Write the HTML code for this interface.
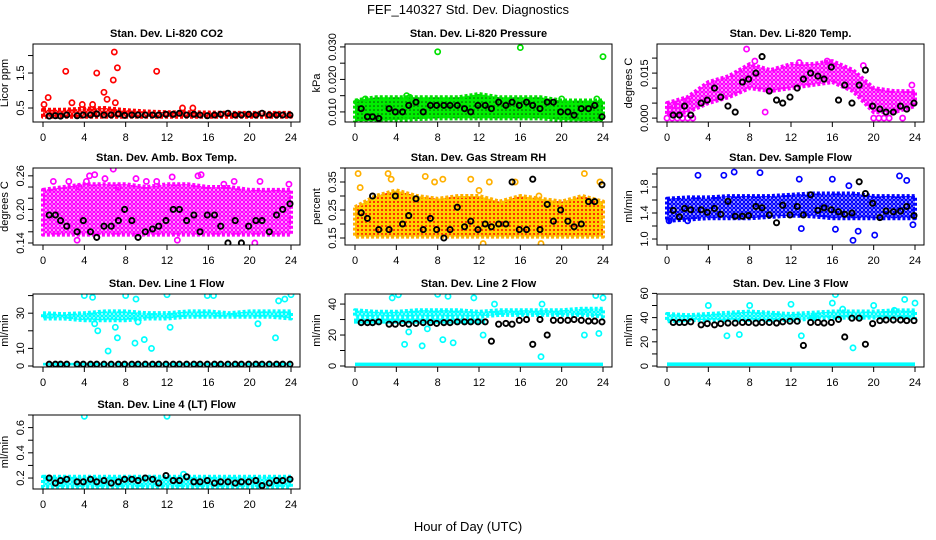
<!DOCTYPE html>
<html><head><meta charset="utf-8"><style>
html,body{margin:0;padding:0;background:#fff;}
svg{display:block;font-family:"Liberation Sans",sans-serif;}
</style></head><body>
<svg id="chart" width="936" height="540" viewBox="0 0 936 540">
<defs>
<pattern id="p-red" width="4" height="4" patternUnits="userSpaceOnUse"><rect width="4" height="4" fill="#fff"/><circle cx="2" cy="2" r="1.6" fill="none" stroke="#f00" stroke-width="1.4"/></pattern>
<pattern id="p-green" width="4" height="4" patternUnits="userSpaceOnUse"><rect width="4" height="4" fill="#00ee00"/><circle cx="2" cy="2" r="0.8" fill="#0a4a0a"/></pattern>
<pattern id="p-mag" width="4" height="4" patternUnits="userSpaceOnUse"><rect width="4" height="4" fill="#fff"/><circle cx="2" cy="2" r="1.6" fill="none" stroke="#f0f" stroke-width="1.4"/></pattern>
<pattern id="p-rh" width="4" height="4" patternUnits="userSpaceOnUse"><rect width="4" height="4" fill="#ffd000"/><circle cx="2" cy="2" r="1" fill="#f00"/></pattern>
<pattern id="p-blue" width="4" height="4" patternUnits="userSpaceOnUse"><rect width="4" height="4" fill="#fff"/><circle cx="2" cy="2" r="1.6" fill="none" stroke="#00f" stroke-width="1.4"/></pattern>
<pattern id="p-cyan" width="4" height="4" patternUnits="userSpaceOnUse"><rect width="4" height="4" fill="#fff"/><circle cx="2" cy="2" r="1.6" fill="none" stroke="#0ff" stroke-width="1.5"/></pattern>
</defs>
<text x="468" y="14" text-anchor="middle" font-size="13">FEF_140327  Std. Dev. Diagnostics</text>
<text x="468" y="531" text-anchor="middle" font-size="13">Hour of Day (UTC)</text>
</svg>
<script>
const bandHours=[0,2,4,6,8,10,12,14,16,18,20,22,24];
const blkHours=[0.6,1.2,1.7,2.3,3.3,3.9,4.6,5.2,5.9,6.6,7.3,7.9,8.6,9.2,9.9,10.6,11.2,11.9,12.6,13.2,13.9,14.6,15.2,15.9,16.6,17.2,17.9,18.6,19.2,19.9,20.6,21.2,21.9,22.6,23.2,23.9];
const xTicks=[0,4,8,12,16,20,24];

const co2Lo=[0.25,0.25,0.25,0.25,0.25,0.25,0.25,0.25,0.25,0.25,0.25,0.25,0.25];
const co2Hi=[0.45,0.45,0.48,0.5,0.44,0.4,0.38,0.38,0.37,0.36,0.36,0.36,0.36];
const co2OutH=[0.1,0.5,2.2,2.8,3.8,4.8,5.2,5.9,6.2,6.8,6.9,7.0,7.2,11,13.5,14.5];
const co2OutV=[0.6,0.8,1.55,0.65,0.6,0.6,1.5,0.95,0.75,1.3,2.1,0.65,1.65,1.55,0.5,0.5];
const co2Blk=[0.27,0.28,0.27,0.3,0.28,0.3,0.3,0.33,0.3,0.3,0.33,0.29,0.3,0.3,0.3,0.3,0.3,0.32,0.32,0.35,0.3,0.32,0.3,0.28,0.3,0.32,0.35,0.3,0.3,0.32,0.3,0.35,0.3,0.3,0.3,0.3];

const presLo=[0.0072,0.0072,0.0075,0.0078,0.008,0.008,0.008,0.008,0.008,0.008,0.0075,0.0072,0.0072];
const presHi=[0.0135,0.0145,0.0145,0.0145,0.0145,0.0145,0.0155,0.0145,0.0145,0.0145,0.0135,0.0135,0.0135];
const presOutH=[0.2,1,3,5,5.3,8,16,18.6,20,23.4,24];
const presOutV=[0.013,0.014,0.0115,0.015,0.0145,0.0285,0.0298,0.0118,0.014,0.014,0.027];
const presBlk=[0.011,0.0085,0.0085,0.008,0.011,0.010,0.010,0.012,0.013,0.010,0.012,0.012,0.012,0.012,0.012,0.011,0.010,0.012,0.012,0.011,0.013,0.012,0.013,0.012,0.013,0.012,0.011,0.013,0.013,0.010,0.010,0.009,0.011,0.011,0.012,0.0085];

const tempLo=[0.001,0.002,0.005,0.007,0.010,0.009,0.010,0.011,0.012,0.009,0.002,0.002,0.004];
const tempHi=[0.005,0.007,0.012,0.014,0.018,0.016,0.018,0.018,0.019,0.016,0.010,0.009,0.009];
const tempOutH=[0.3,1,2,7.7,8.5,9.5,12.8,15.5,19,23.7,0,0.5,1,1.5,2,2.5,20,20.5,21,21.5,22.8];
const tempOutV=[0.003,0.004,0.006,0.023,0.019,0.002,0.0185,0.019,0.0175,0.011,0,0,0,0,0,0,0,0,0,0,0];
const tempBlk=[0.001,0.001,0.004,0.001,0.005,0.006,0.010,0.007,0.004,0.002,0.012,0.013,0.015,0.0205,0.009,0.006,0.005,0.007,0.010,0.013,0.015,0.014,0.013,0.017,0.006,0.011,0.005,0.011,0.016,0.004,0.003,0.002,0.002,0.004,0.003,0.005];

const ambLo=[0.155,0.155,0.155,0.155,0.155,0.155,0.155,0.155,0.155,0.155,0.155,0.155,0.155];
const ambHi=[0.235,0.24,0.245,0.245,0.245,0.24,0.245,0.245,0.24,0.24,0.235,0.235,0.235];
const ambOutH=[2.5,3.5,4.2,4.5,5,6,6.8,7.3,9,11,12.5,15,15.3,17.5,18.5,21,23.8,3.3,13,20.5,1,10];
const ambOutV=[0.25,0.24,0.25,0.26,0.262,0.255,0.272,0.24,0.255,0.25,0.258,0.26,0.262,0.245,0.25,0.25,0.245,0.145,0.145,0.14,0.25,0.25];
const ambBlk=[0.19,0.19,0.18,0.17,0.16,0.18,0.16,0.15,0.17,0.17,0.18,0.2,0.18,0.15,0.16,0.165,0.17,0.18,0.2,0.2,0.18,0.19,0.16,0.19,0.19,0.17,0.14,0.18,0.14,0.17,0.18,0.18,0.16,0.19,0.2,0.21];

const rhLo=[0.155,0.155,0.155,0.155,0.155,0.155,0.155,0.155,0.155,0.155,0.155,0.155,0.155];
const rhHi=[0.26,0.3,0.32,0.3,0.29,0.3,0.3,0.28,0.3,0.29,0.28,0.3,0.28];
const rhOutH=[0.3,0.5,3.2,3.5,6.8,7.7,8.5,11.2,12,13,15.5,17.8,22.2,23.7,18,12.4];
const rhOutV=[0.38,0.33,0.38,0.36,0.37,0.35,0.36,0.36,0.32,0.35,0.35,0.3,0.38,0.35,0.13,0.13];
const rhBlk=[0.24,0.22,0.3,0.18,0.18,0.3,0.2,0.23,0.29,0.18,0.22,0.18,0.15,0.18,0.26,0.19,0.21,0.18,0.2,0.19,0.2,0.2,0.35,0.18,0.18,0.36,0.18,0.27,0.21,0.25,0.21,0.19,0.2,0.28,0.28,0.34];

const flowLo=[1.28,1.3,1.32,1.32,1.32,1.34,1.36,1.35,1.32,1.32,1.32,1.32,1.32];
const flowHi=[1.62,1.64,1.64,1.66,1.66,1.66,1.68,1.7,1.7,1.7,1.66,1.66,1.66];
const flowOutH=[3,5.5,6.5,9,12.8,16,17.6,18,18.5,20.1,22.5,23.2,13,16.3,23.8,2,0.2];
const flowOutV=[1.98,1.98,2.03,2.02,1.92,1.92,1.82,0.98,1.12,1.06,1.97,1.9,1.16,1.15,1.22,1.28,1.28];
const flowBlk=[1.44,1.34,1.47,1.45,1.45,1.41,1.47,1.38,1.58,1.35,1.35,1.36,1.5,1.48,1.37,1.25,1.52,1.37,1.5,1.37,1.68,1.44,1.48,1.45,1.42,1.38,1.4,1.88,1.7,1.55,1.33,1.43,1.42,1.43,1.5,1.36];

const l1Lo=[27,27,26,26,26,27,27,28,28,28,28,28,27];
const l1Hi=[30,29.5,30,31,31,30,30,31,31,30,31,31,31];
const l1OutH=[4,4.8,5,5.3,6.3,7,7.2,8,9,9.2,9.8,10.5,12,12.3,15.9,16.5,20.8,22.5,22.8,23.4,24,8.9];
const l1OutV=[40,39,24,20,8.5,22,16,40,38,25,15,10,40.5,22,40,40,24,16,37,38,40.5,13];
const l1Blk=[1,1,1,1,1,1,1,1,1,1,1,1,1,1,1,1,1,1,1,1,1,1,1,1,1,1,1,1,1,1,1,1,1,1,1,1];

const l2Lo=[32,32,32,32,32,32,32,33,33,33,33,33,32];
const l2Hi=[36,35,35,36,36,36,35,36,36,36,36,37,37];
const l2OutH=[3.6,4.2,4.8,5.2,6.5,7,8,8.5,9,9.5,11.5,12.4,13.5,18,18.1,22.2,23.3,23.6,24];
const l2OutV=[44,46,14,22,13,24,46.3,17,45,15,44,20,40,6,40,20,45.5,21,44];
const l2Blk=[28,28,28,28.5,27,27,27.5,27,27.5,28,28,27.5,28,28,28.5,28.5,28.5,28.5,28.5,16,27,27.5,27,29.5,30,14,30,20,29.5,29.5,29.5,30,29.5,29,29,28.5];

const l3Lo=[37,38,38,38,38,38,38,39,40,40,40,40,40];
const l3Hi=[43,42,43,44,45,44,43,44,45,45,45,46,46];
const l3OutH=[4,5.8,7,8,12,13,16,16.3,17,18,20,22,23,24,14.2];
const l3OutV=[50,25,26,50,51,25,52,59,47,15,50,46,55,52,40];
const l3Blk=[36,36,36,36.5,34,35,34,35,35.5,35.5,36,36,35.5,36,36,35.5,36.5,37,37,17,36,36,35.5,36,38.5,24,39.5,39.5,18,35,37.5,38,38,38,37.5,37.5];

const l4Lo=[0.13,0.13,0.13,0.13,0.13,0.13,0.13,0.13,0.13,0.13,0.13,0.13,0.13];
const l4Hi=[0.21,0.21,0.21,0.21,0.21,0.21,0.21,0.21,0.21,0.21,0.21,0.21,0.21];
const l4OutH=[4,12,13.6];
const l4OutV=[0.69,0.69,0.23];
const l4Blk=[0.2,0.16,0.18,0.19,0.17,0.17,0.19,0.17,0.18,0.16,0.17,0.19,0.19,0.18,0.2,0.19,0.16,0.22,0.18,0.18,0.21,0.17,0.17,0.18,0.16,0.17,0.17,0.16,0.17,0.17,0.18,0.14,0.16,0.18,0.18,0.19];

const panels=[
 {key:'co2',title:'Stan. Dev. Li-820 CO2',ylab:'Licor ppm',c:0,r:0,dom:[0.1,2.33],ticks:[0.5,1,1.5,2],labels:['0.5','','1.5',''],col:'#f00',pat:'p-red',lo:co2Lo,hi:co2Hi,oh:co2OutH,ov:co2OutV,blk:co2Blk},
 {key:'pressure',title:'Stan. Dev. Li-820 Pressure',ylab:'kPa',c:1,r:0,dom:[0.0069,0.0309],ticks:[0.01,0.015,0.02,0.025,0.03],labels:['0.010','','0.020','','0.030'],col:'#00e000',pat:'p-green',lo:presLo,hi:presHi,oh:presOutH,ov:presOutV,blk:presBlk},
 {key:'temp',title:'Stan. Dev. Li-820 Temp.',ylab:'degrees C',c:2,r:0,dom:[-0.0013,0.0247],ticks:[0,0.005,0.01,0.015,0.02],labels:['0.000','','','0.015',''],col:'#f0f',pat:'p-mag',lo:tempLo,hi:tempHi,oh:tempOutH,ov:tempOutV,blk:tempBlk},
 {key:'amb-box',title:'Stan. Dev. Amb. Box Temp.',ylab:'degrees C',c:0,r:1,dom:[0.1364,0.274],ticks:[0.14,0.16,0.18,0.2,0.22,0.24,0.26],labels:['0.14','','','0.20','','','0.26'],col:'#f0f',pat:'p-mag',lo:ambLo,hi:ambHi,oh:ambOutH,ov:ambOutV,blk:ambBlk},
 {key:'rh',title:'Stan. Dev. Gas Stream RH',ylab:'percent',c:1,r:1,dom:[0.125,0.40],ticks:[0.15,0.2,0.25,0.3,0.35,0.4],labels:['0.15','','0.25','','0.35',''],col:'#ffb000',pat:'p-rh',lo:rhLo,hi:rhHi,oh:rhOutH,ov:rhOutV,blk:rhBlk},
 {key:'sample-flow',title:'Stan. Dev. Sample Flow',ylab:'ml/min',c:2,r:1,dom:[0.908,2.092],ticks:[1,1.2,1.4,1.6,1.8,2],labels:['1.0','','1.4','','1.8',''],col:'#00f',pat:'p-blue',lo:flowLo,hi:flowHi,oh:flowOutH,ov:flowOutV,blk:flowBlk},
 {key:'line1',title:'Stan. Dev. Line 1 Flow',ylab:'ml/min',c:0,r:2,dom:[-0.57,40.9],ticks:[0,10,20,30,40],labels:['0','10','','30',''],col:'#0ff',pat:'p-cyan',lo:l1Lo,hi:l1Hi,oh:l1OutH,ov:l1OutV,blk:l1Blk,floor:[0.3,1.8]},
 {key:'line2',title:'Stan. Dev. Line 2 Flow',ylab:'ml/min',c:1,r:2,dom:[-0.65,46.5],ticks:[0,10,20,30,40],labels:['0','','20','','40'],col:'#0ff',pat:'p-cyan',lo:l2Lo,hi:l2Hi,oh:l2OutH,ov:l2OutV,blk:l2Blk,floor:[0,2.2],mid:[28,30,12.5]},
 {key:'line3',title:'Stan. Dev. Line 3 Flow',ylab:'ml/min',c:2,r:2,dom:[-0.8,59.5],ticks:[0,10,20,30,40,50,60],labels:['0','','20','','40','','60'],col:'#0ff',pat:'p-cyan',lo:l3Lo,hi:l3Hi,oh:l3OutH,ov:l3OutV,blk:l3Blk,floor:[0,3]},
 {key:'line4',title:'Stan. Dev. Line 4 (LT) Flow',ylab:'ml/min',c:0,r:3,dom:[0.113,0.70],ticks:[0.2,0.3,0.4,0.5,0.6,0.7],labels:['0.2','','0.4','','0.6',''],col:'#0ff',pat:'p-cyan',lo:l4Lo,hi:l4Hi,oh:l4OutH,ov:l4OutV,blk:l4Blk}
];
const rowTop=[44,168,294,415], rowBot=[122,245,367,489];
const NS='http://www.w3.org/2000/svg';
const svg=document.getElementById('chart');
function mk(tag,attrs,parent){const e=document.createElementNS(NS,tag);for(const k in attrs)e.setAttribute(k,attrs[k]);(parent||svg).appendChild(e);return e;}

panels.forEach(p=>{
 const x0=43+312*p.c, left=x0-10, right=x0+257, top=rowTop[p.r], bot=rowBot[p.r];
 const xs=h=>x0+h*(248/24);
 const ys=v=>bot-(v-p.dom[0])/(p.dom[1]-p.dom[0])*(bot-top);
 const g=mk('g',{});
 
 
 const clip=mk('clipPath',{id:'clip-'+p.key},g);
 mk('rect',{x:left,y:top,width:right-left,height:bot-top},clip);
 const data=mk('g',{'clip-path':'url(#clip-'+p.key+')'},g);
 let pts=bandHours.map((h,i)=>xs(h)+','+ys(p.hi[i]));
 pts=pts.concat(bandHours.slice().reverse().map((h,j)=>{const i=bandHours.length-1-j;return xs(h)+','+ys(p.lo[i]);}));
 const band=mk('polygon',{points:pts.join(' '),fill:'url(#'+p.pat+')',stroke:p.col,'stroke-width':4,'stroke-dasharray':'3 2','stroke-linejoin':'round'},data);
 
 
 if(p.floor){
  const fl=mk('rect',{x:xs(0),y:ys(p.floor[1]),width:xs(24)-xs(0),height:ys(p.floor[0])-ys(p.floor[1]),fill:p.col},data);
  
  
 }
 if(p.mid){
  const md=mk('rect',{x:xs(0),y:ys(p.mid[1]),width:xs(p.mid[2])-xs(0),height:ys(p.mid[0])-ys(p.mid[1]),fill:'url(#'+p.pat+')',stroke:p.col,'stroke-width':2},data);
  
  
 }
 p.oh.forEach((h,i)=>{
  const c=mk('circle',{cx:xs(h),cy:ys(p.ov[i]),r:2.6,fill:'none',stroke:p.col,'stroke-width':1.7},data);
  
  
 });
 blkHours.forEach((h,i)=>{
  const c=mk('circle',{cx:xs(h),cy:ys(p.blk[i]),r:2.6,fill:'none',stroke:'#000','stroke-width':1.9},data);
  
  
 });
 const fr=mk('rect',{x:left,y:top,width:right-left,height:bot-top,fill:'none',stroke:'#000','stroke-width':1},g);
 
 
 xTicks.forEach(t=>{
  mk('line',{x1:xs(t),x2:xs(t),y1:bot,y2:bot+5,stroke:'#000'},g);
  const tx=mk('text',{x:xs(t),y:bot+19,'text-anchor':'middle','font-size':11},g);
  tx.textContent=t;
  
  
 });
 p.ticks.forEach((t,i)=>{
  const y=ys(t);
  if(y<top-1||y>bot+1)return;
  mk('line',{x1:left-5,x2:left,y1:y,y2:y,stroke:'#000'},g);
  if(p.labels[i]){
   const tx=mk('text',{x:left-9,y:y,'text-anchor':'middle','font-size':11,transform:'rotate(-90 '+(left-9)+' '+y+')'},g);
   tx.textContent=p.labels[i];
   
   
  }
 });
 const yl=mk('text',{x:left-25,y:(top+bot)/2,'text-anchor':'middle','font-size':11,transform:'rotate(-90 '+(left-25)+' '+((top+bot)/2)+')'},g);
 yl.textContent=p.ylab;
 
 
 const tt=mk('text',{x:(left+right)/2,y:top-7,'text-anchor':'middle','font-size':11,'font-weight':'bold'},g);
 tt.textContent=p.title;
 
 
});
</script>
</body></html>
